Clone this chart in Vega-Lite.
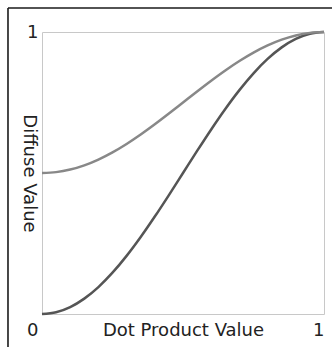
{
  "$schema": "https://vega.github.io/schema/vega-lite/v6.json",
  "width": 282,
  "height": 282,
  "autosize": {"type": "none"},
  "padding": {"left": 42, "top": 32, "right": 8, "bottom": 33},
  "background": "white",
  "config": {
    "view": {"stroke": null},
    "font": "DejaVu Sans"
  },
  "datasets": {
    "curves": [
      {"x": 0, "y": 0, "s": "dark"},
      {"x": 0.05, "y": 0.00616, "s": "dark"},
      {"x": 0.1, "y": 0.02447, "s": "dark"},
      {"x": 0.15, "y": 0.0545, "s": "dark"},
      {"x": 0.2, "y": 0.09549, "s": "dark"},
      {"x": 0.25, "y": 0.14645, "s": "dark"},
      {"x": 0.3, "y": 0.20611, "s": "dark"},
      {"x": 0.35, "y": 0.273, "s": "dark"},
      {"x": 0.4, "y": 0.34549, "s": "dark"},
      {"x": 0.45, "y": 0.42178, "s": "dark"},
      {"x": 0.5, "y": 0.5, "s": "dark"},
      {"x": 0.55, "y": 0.57822, "s": "dark"},
      {"x": 0.6, "y": 0.65451, "s": "dark"},
      {"x": 0.65, "y": 0.727, "s": "dark"},
      {"x": 0.7, "y": 0.79389, "s": "dark"},
      {"x": 0.75, "y": 0.85355, "s": "dark"},
      {"x": 0.8, "y": 0.90451, "s": "dark"},
      {"x": 0.85, "y": 0.9455, "s": "dark"},
      {"x": 0.9, "y": 0.97553, "s": "dark"},
      {"x": 0.95, "y": 0.99384, "s": "dark"},
      {"x": 1, "y": 1, "s": "dark"},
      {"x": 0, "y": 0.5, "s": "light"},
      {"x": 0.05, "y": 0.50308, "s": "light"},
      {"x": 0.1, "y": 0.51224, "s": "light"},
      {"x": 0.15, "y": 0.52725, "s": "light"},
      {"x": 0.2, "y": 0.54775, "s": "light"},
      {"x": 0.25, "y": 0.57323, "s": "light"},
      {"x": 0.3, "y": 0.60306, "s": "light"},
      {"x": 0.35, "y": 0.6365, "s": "light"},
      {"x": 0.4, "y": 0.67275, "s": "light"},
      {"x": 0.45, "y": 0.71089, "s": "light"},
      {"x": 0.5, "y": 0.75, "s": "light"},
      {"x": 0.55, "y": 0.78911, "s": "light"},
      {"x": 0.6, "y": 0.82725, "s": "light"},
      {"x": 0.65, "y": 0.8635, "s": "light"},
      {"x": 0.7, "y": 0.89694, "s": "light"},
      {"x": 0.75, "y": 0.92678, "s": "light"},
      {"x": 0.8, "y": 0.95225, "s": "light"},
      {"x": 0.85, "y": 0.97275, "s": "light"},
      {"x": 0.9, "y": 0.98776, "s": "light"},
      {"x": 0.95, "y": 0.99692, "s": "light"},
      {"x": 1, "y": 1, "s": "light"}
    ]
  },
  "layer": [
    {
      "data": {"name": "curves"},
      "mark": {"type": "line", "strokeWidth": 2.5, "interpolate": "monotone"},
      "encoding": {
        "x": {
          "field": "x", "type": "quantitative",
          "scale": {"domain": [0, 1], "nice": false},
          "axis": {
            "values": [0, 0.5, 1],
            "format": "d",
            "grid": true, "gridColor": "#c8c8c8", "gridWidth": 1,
            "domain": false, "ticks": false,
            "labelExpr": "datum.value == 0.5 ? '' : datum.label",
            "labelFontSize": 18, "labelColor": "#222",
            "labelAlign": "right",
            "labelBaseline": "alphabetic",
            "labelPadding": 21,
            "labelOffset": {"condition": {"test": "datum.value == 0", "value": -4}, "value": 0},
            "labelFlush": false,
            "labelOverlap": false,
            "title": "Dot Product Value",
            "titleFontSize": 18, "titleFontWeight": "normal", "titleColor": "#222",
            "titleX": 141, "titleY": 21, "titleAlign": "center", "titleBaseline": "alphabetic"
          }
        },
        "y": {
          "field": "y", "type": "quantitative",
          "scale": {"domain": [0, 1], "nice": false},
          "axis": {
            "values": [0, 0.5, 1],
            "format": "d",
            "grid": true, "gridColor": "#c8c8c8", "gridWidth": 1,
            "domain": false, "ticks": false,
            "labelExpr": "datum.value == 1 ? '1' : ''",
            "labelFontSize": 18, "labelColor": "#222",
            "labelAlign": "right", "labelBaseline": "middle",
            "labelPadding": 4, "labelFlush": false, "labelOverlap": false,
            "title": "Diffuse Value",
            "titleFontSize": 18, "titleFontWeight": "normal", "titleColor": "#222",
            "titleAngle": 90, "titleX": -19, "titleY": 141,
            "titleAlign": "center", "titleBaseline": "alphabetic"
          }
        },
        "color": {
          "field": "s", "type": "nominal",
          "scale": {"domain": ["light", "dark"], "range": ["#888888", "#555555"]},
          "legend": null
        }
      }
    },
    {
      "data": {"values": [{}]},
      "mark": {"type": "rule", "color": "#1a1a1a", "strokeWidth": 1.6},
      "encoding": {
        "x": {"datum": -0.1206},
        "y": {"datum": 1.0851},
        "y2": {"datum": -0.2}
      }
    },
    {
      "data": {"values": [{}]},
      "mark": {"type": "rule", "color": "#1a1a1a", "strokeWidth": 1.6},
      "encoding": {
        "y": {"datum": 1.0851},
        "x": {"datum": -0.1206},
        "x2": {"datum": 1.2}
      }
    }
  ]
}
